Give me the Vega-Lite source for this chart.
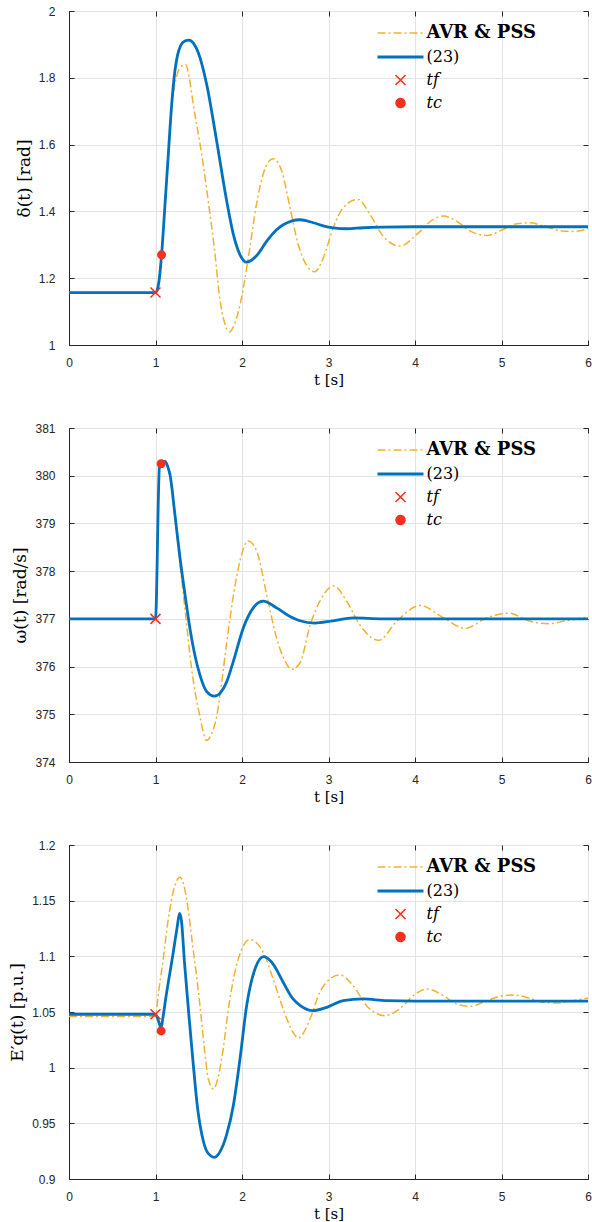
{
  "$schema": "https://vega.github.io/schema/vega-lite/v6.json",
  "autosize": {"type": "pad"},
  "padding": {"left": 8, "top": 4, "right": 0, "bottom": 4},
  "bounds": "flush",
  "spacing": 83,
  "background": "white",
  "datasets": {
    "L1": [
      {"s":"a","t":0,"v":1.157},{"s":"a","t":1.0,"v":1.157},{"s":"a","t":1.04,"v":1.19},{"s":"a","t":1.07,"v":1.269},{"s":"a","t":1.11,"v":1.421},{"s":"a","t":1.15,"v":1.571},{"s":"a","t":1.19,"v":1.715},{"s":"a","t":1.245,"v":1.805},{"s":"a","t":1.30,"v":1.834},{"s":"a","t":1.349,"v":1.840},{"s":"a","t":1.39,"v":1.80},{"s":"a","t":1.437,"v":1.72},{"s":"a","t":1.534,"v":1.571},{"s":"a","t":1.61,"v":1.431},{"s":"a","t":1.688,"v":1.272},{"s":"a","t":1.738,"v":1.15},{"s":"a","t":1.80,"v":1.065},{"s":"a","t":1.853,"v":1.039},{"s":"a","t":1.91,"v":1.06},{"s":"a","t":1.977,"v":1.12},{"s":"a","t":2.073,"v":1.262},{"s":"a","t":2.17,"v":1.425},{"s":"a","t":2.266,"v":1.528},{"s":"a","t":2.36,"v":1.558},{"s":"a","t":2.459,"v":1.521},{"s":"a","t":2.555,"v":1.411},{"s":"a","t":2.651,"v":1.30},{"s":"a","t":2.748,"v":1.238},{"s":"a","t":2.84,"v":1.219},{"s":"a","t":2.94,"v":1.261},{"s":"a","t":3.055,"v":1.351},{"s":"a","t":3.17,"v":1.411},{"s":"a","t":3.34,"v":1.436},{"s":"a","t":3.48,"v":1.391},{"s":"a","t":3.634,"v":1.325},{"s":"a","t":3.83,"v":1.296},{"s":"a","t":4.02,"v":1.331},{"s":"a","t":4.21,"v":1.376},{"s":"a","t":4.33,"v":1.386},{"s":"a","t":4.48,"v":1.371},{"s":"a","t":4.64,"v":1.341},{"s":"a","t":4.83,"v":1.328},{"s":"a","t":5.02,"v":1.346},{"s":"a","t":5.18,"v":1.363},{"s":"a","t":5.33,"v":1.366},{"s":"a","t":5.52,"v":1.353},{"s":"a","t":5.71,"v":1.341},{"s":"a","t":5.83,"v":1.340},{"s":"a","t":6.0,"v":1.348},
      {"s":"b","t":0,"v":1.157},{"s":"b","t":1.0,"v":1.157},{"s":"b","t":1.02,"v":1.165},{"s":"b","t":1.04,"v":1.19},{"s":"b","t":1.07,"v":1.269},{"s":"b","t":1.11,"v":1.421},{"s":"b","t":1.148,"v":1.571},{"s":"b","t":1.187,"v":1.72},{"s":"b","t":1.225,"v":1.822},{"s":"b","t":1.255,"v":1.868},{"s":"b","t":1.29,"v":1.896},{"s":"b","t":1.34,"v":1.910},{"s":"b","t":1.39,"v":1.913},{"s":"b","t":1.44,"v":1.903},{"s":"b","t":1.495,"v":1.875},{"s":"b","t":1.592,"v":1.78},{"s":"b","t":1.707,"v":1.611},{"s":"b","t":1.823,"v":1.431},{"s":"b","t":1.90,"v":1.331},{"s":"b","t":1.977,"v":1.27},{"s":"b","t":2.054,"v":1.248},{"s":"b","t":2.17,"v":1.268},{"s":"b","t":2.286,"v":1.311},{"s":"b","t":2.40,"v":1.345},{"s":"b","t":2.477,"v":1.360},{"s":"b","t":2.57,"v":1.371},{"s":"b","t":2.67,"v":1.375},{"s":"b","t":2.824,"v":1.366},{"s":"b","t":2.95,"v":1.356},{"s":"b","t":3.055,"v":1.351},{"s":"b","t":3.21,"v":1.348},{"s":"b","t":3.40,"v":1.351},{"s":"b","t":3.63,"v":1.353},{"s":"b","t":4.0,"v":1.354},{"s":"b","t":5.0,"v":1.354},{"s":"b","t":6.0,"v":1.354}
    ],
    "M1": [{"s":"f","t":1.0,"v":1.157},{"s":"c","t":1.07,"v":1.27}],
    "L2": [
      {"s":"a","t":0,"v":377},{"s":"a","t":1.0,"v":377},{"s":"a","t":1.046,"v":380.2},{"s":"a","t":1.07,"v":380.27},{"s":"a","t":1.11,"v":380.30},{"s":"a","t":1.14,"v":380.18},{"s":"a","t":1.168,"v":379.98},{"s":"a","t":1.225,"v":379.1},{"s":"a","t":1.283,"v":378.15},{"s":"a","t":1.341,"v":377.2},{"s":"a","t":1.418,"v":375.95},{"s":"a","t":1.514,"v":374.95},{"s":"a","t":1.59,"v":374.45},{"s":"a","t":1.65,"v":374.6},{"s":"a","t":1.707,"v":374.95},{"s":"a","t":1.76,"v":375.6},{"s":"a","t":1.823,"v":376.5},{"s":"a","t":1.90,"v":377.48},{"s":"a","t":1.977,"v":378.22},{"s":"a","t":2.07,"v":378.63},{"s":"a","t":2.17,"v":378.42},{"s":"a","t":2.286,"v":377.5},{"s":"a","t":2.40,"v":376.6},{"s":"a","t":2.50,"v":376.11},{"s":"a","t":2.57,"v":375.94},{"s":"a","t":2.67,"v":376.08},{"s":"a","t":2.79,"v":376.88},{"s":"a","t":2.90,"v":377.37},{"s":"a","t":3.06,"v":377.69},{"s":"a","t":3.21,"v":377.37},{"s":"a","t":3.36,"v":376.88},{"s":"a","t":3.58,"v":376.55},{"s":"a","t":3.79,"v":376.95},{"s":"a","t":4.06,"v":377.28},{"s":"a","t":4.33,"v":377.02},{"s":"a","t":4.58,"v":376.8},{"s":"a","t":4.83,"v":377.02},{"s":"a","t":5.08,"v":377.12},{"s":"a","t":5.33,"v":376.95},{"s":"a","t":5.54,"v":376.9},{"s":"a","t":5.75,"v":376.96},{"s":"a","t":6.0,"v":377.04},
      {"s":"b","t":0,"v":377},{"s":"b","t":1.0,"v":377},{"s":"b","t":1.046,"v":380.2},{"s":"b","t":1.07,"v":380.27},{"s":"b","t":1.11,"v":380.30},{"s":"b","t":1.14,"v":380.2},{"s":"b","t":1.168,"v":380.02},{"s":"b","t":1.225,"v":379.18},{"s":"b","t":1.283,"v":378.28},{"s":"b","t":1.341,"v":377.51},{"s":"b","t":1.40,"v":376.78},{"s":"b","t":1.46,"v":376.2},{"s":"b","t":1.509,"v":375.85},{"s":"b","t":1.59,"v":375.48},{"s":"b","t":1.682,"v":375.38},{"s":"b","t":1.75,"v":375.45},{"s":"b","t":1.823,"v":375.68},{"s":"b","t":1.90,"v":376.11},{"s":"b","t":2.015,"v":376.81},{"s":"b","t":2.13,"v":377.23},{"s":"b","t":2.245,"v":377.37},{"s":"b","t":2.40,"v":377.23},{"s":"b","t":2.555,"v":377.05},{"s":"b","t":2.67,"v":376.96},{"s":"b","t":2.84,"v":376.91},{"s":"b","t":3.05,"v":376.96},{"s":"b","t":3.29,"v":377.02},{"s":"b","t":3.63,"v":377.0},{"s":"b","t":6.0,"v":377.0}
    ],
    "M2": [{"s":"f","t":1.0,"v":377.0},{"s":"c","t":1.065,"v":380.25}],
    "L3": [
      {"s":"a","t":0,"v":1.046},{"s":"a","t":1.0,"v":1.046},{"s":"a","t":1.03,"v":1.0647},{"s":"a","t":1.084,"v":1.0946},{"s":"a","t":1.16,"v":1.1397},{"s":"a","t":1.237,"v":1.1665},{"s":"a","t":1.283,"v":1.171},{"s":"a","t":1.32,"v":1.166},{"s":"a","t":1.353,"v":1.1545},{"s":"a","t":1.43,"v":1.1097},{"s":"a","t":1.51,"v":1.0587},{"s":"a","t":1.566,"v":1.0168},{"s":"a","t":1.61,"v":0.99},{"s":"a","t":1.67,"v":0.9808},{"s":"a","t":1.72,"v":0.99},{"s":"a","t":1.765,"v":1.0078},{"s":"a","t":1.86,"v":1.0617},{"s":"a","t":1.957,"v":1.0976},{"s":"a","t":2.09,"v":1.115},{"s":"a","t":2.246,"v":1.1036},{"s":"a","t":2.36,"v":1.0797},{"s":"a","t":2.476,"v":1.0527},{"s":"a","t":2.59,"v":1.0318},{"s":"a","t":2.65,"v":1.0265},{"s":"a","t":2.70,"v":1.030},{"s":"a","t":2.786,"v":1.0437},{"s":"a","t":2.90,"v":1.0677},{"s":"a","t":3.017,"v":1.0797},{"s":"a","t":3.13,"v":1.0832},{"s":"a","t":3.285,"v":1.0737},{"s":"a","t":3.44,"v":1.0557},{"s":"a","t":3.65,"v":1.0467},{"s":"a","t":3.82,"v":1.0527},{"s":"a","t":3.98,"v":1.0647},{"s":"a","t":4.14,"v":1.0707},{"s":"a","t":4.326,"v":1.0647},{"s":"a","t":4.48,"v":1.0572},{"s":"a","t":4.64,"v":1.0551},{"s":"a","t":4.83,"v":1.0602},{"s":"a","t":4.985,"v":1.0641},{"s":"a","t":5.14,"v":1.0653},{"s":"a","t":5.33,"v":1.0623},{"s":"a","t":5.48,"v":1.0587},{"s":"a","t":5.64,"v":1.0581},{"s":"a","t":5.83,"v":1.0602},{"s":"a","t":6.0,"v":1.0626},
      {"s":"b","t":0,"v":1.048},{"s":"b","t":1.0,"v":1.048},{"s":"b","t":1.03,"v":1.043},{"s":"b","t":1.055,"v":1.037},{"s":"b","t":1.065,"v":1.036},{"s":"b","t":1.08,"v":1.042},{"s":"b","t":1.12,"v":1.063},{"s":"b","t":1.2,"v":1.101},{"s":"b","t":1.25,"v":1.126},{"s":"b","t":1.278,"v":1.1385},{"s":"b","t":1.30,"v":1.132},{"s":"b","t":1.335,"v":1.0946},{"s":"b","t":1.393,"v":1.0408},{"s":"b","t":1.431,"v":1.008},{"s":"b","t":1.48,"v":0.968},{"s":"b","t":1.55,"v":0.935},{"s":"b","t":1.60,"v":0.924},{"s":"b","t":1.682,"v":0.9195},{"s":"b","t":1.75,"v":0.925},{"s":"b","t":1.823,"v":0.94},{"s":"b","t":1.90,"v":0.966},{"s":"b","t":1.977,"v":1.008},{"s":"b","t":2.054,"v":1.0557},{"s":"b","t":2.15,"v":1.0886},{"s":"b","t":2.25,"v":1.0997},{"s":"b","t":2.36,"v":1.0931},{"s":"b","t":2.476,"v":1.0767},{"s":"b","t":2.59,"v":1.0617},{"s":"b","t":2.67,"v":1.056},{"s":"b","t":2.82,"v":1.0512},{"s":"b","t":2.98,"v":1.0542},{"s":"b","t":3.17,"v":1.0602},{"s":"b","t":3.40,"v":1.0617},{"s":"b","t":3.67,"v":1.0602},{"s":"b","t":4.0,"v":1.0598},{"s":"b","t":6.0,"v":1.0598}
    ],
    "M3": [{"s":"f","t":1.0,"v":1.048},{"s":"c","t":1.065,"v":1.033}]
  },
  "config": {
    "view": {"stroke": "#262626", "strokeWidth": 1},
    "axis": {
      "labelFont": "Liberation Sans", "labelFontSize": 12, "labelColor": "#262626",
      "titleFont": "DejaVu Serif", "titleFontSize": 15, "titleFontWeight": "normal", "titleColor": "#000000",
      "domainColor": "#262626", "tickColor": "#262626", "gridColor": "#E3E3E3", "gridWidth": 1,
      "tickSize": -5, "labelFlush": false, "labelOverlap": false
    },
    "axisX": {"labelPadding": 17, "titlePadding": 4},
    "axisY": {"labelPadding": 19, "titlePadding": 5, "titleFontSize": 17},
    "legend": {
      "labelFont": "DejaVu Serif", "labelFontSize": 16, "labelColor": "#000000",
      "labelOffset": 18, "rowPadding": 7, "symbolSize": 4, "padding": 0
    }
  },
  "resolve": {"scale": {"color": "independent"}, "legend": {"color": "independent"}},
  "vconcat": [
    {
      "width": 519, "height": 334,
      "resolve": {"scale": {"x": "independent", "y": "independent"}},
      "layer": [
        {
          "layer": [
            {"data": {"name": "L1"}, "transform": [{"filter": "datum.s === 'a'"}],
             "mark": {"type": "line", "strokeWidth": 1.5, "strokeDash": [8, 3, 2, 3], "interpolate": "monotone", "clip": true},
             "encoding": {
               "x": {"field": "t", "type": "quantitative", "scale": {"domain": [0, 6], "nice": false}, "axis": {"values": [0,1,2,3,4,5,6], "format": "d", "title": "t [s]"}},
               "y": {"field": "v", "type": "quantitative", "scale": {"domain": [1, 2], "nice": false, "zero": false}, "axis": {"values": [1,1.2,1.4,1.6,1.8,2], "format": ".1~f", "title": "δ(t) [rad]"}},
               "color": {"field": "s", "type": "nominal",
                 "scale": {"domain": ["a","b","f","c"], "range": ["#F2B230","#0072BD","#F5301E","#F5301E"]},
                 "legend": {"orient": "none", "legendX": 323.5, "legendY": 14, "title": null,
                   "labelFont": "DejaVu Serif", "labelFontSize": 16, "labelOffset": 18, "rowPadding": 7,
                   "labelExpr": "datum.value === 'a' ? 'AVR & PSS' : datum.value === 'b' ? '(23)' : datum.value === 'f' ? 'tf' : 'tc'",
                   "encode": {
                     "symbols": {"update": {
                       "shape": {"signal": "datum.value === 'a' || datum.value === 'b' ? 'M-23,0H23' : datum.value === 'f' ? 'M-5,-5L5,5M-5,5L5,-5' : 'circle'"},
                       "size": {"signal": "datum.value === 'c' ? 81 : 4"},
                       "stroke": {"signal": "datum.value === 'a' ? '#F2B230' : datum.value === 'b' ? '#0072BD' : datum.value === 'f' ? '#F5301E' : 'transparent'"},
                       "fill": {"signal": "datum.value === 'c' ? '#F5301E' : 'transparent'"},
                       "strokeWidth": {"signal": "datum.value === 'b' ? 2.8 : 1.5"},
                       "strokeDash": {"signal": "datum.value === 'a' ? [8,3,2,3] : [1,0]"},
                       "opacity": {"value": 1}
                     }},
                     "labels": {"update": {
                       "fontWeight": {"signal": "datum.value === 'a' ? 'bold' : 'normal'"},
                       "fontSize": {"signal": "datum.value === 'a' ? 18 : 16"},
                       "fontStyle": {"signal": "datum.value === 'f' || datum.value === 'c' ? 'italic' : 'normal'"}
                     }}
                   }
                 }}
             }},
            {"data": {"name": "L1"}, "transform": [{"filter": "datum.s === 'b'"}],
             "mark": {"type": "line", "strokeWidth": 2.8, "interpolate": "monotone", "clip": true},
             "encoding": {"x": {"field": "t", "type": "quantitative"}, "y": {"field": "v", "type": "quantitative"}, "color": {"field": "s", "type": "nominal"}}},
            {"data": {"name": "M1"}, "transform": [{"filter": "datum.s === 'f'"}],
             "mark": {"type": "point", "shape": "M-5,-5L5,5M-5,5L5,-5", "size": 4, "filled": false, "strokeWidth": 1.5, "opacity": 1},
             "encoding": {"x": {"field": "t", "type": "quantitative"}, "y": {"field": "v", "type": "quantitative"}, "color": {"field": "s", "type": "nominal"}}},
            {"data": {"name": "M1"}, "transform": [{"filter": "datum.s === 'c'"}],
             "mark": {"type": "point", "shape": "circle", "size": 81, "filled": true, "opacity": 1},
             "encoding": {"x": {"field": "t", "type": "quantitative"}, "y": {"field": "v", "type": "quantitative"}, "color": {"field": "s", "type": "nominal"}}}
          ]
        },
        {"data": {"name": "M1"}, "mark": {"type": "point", "opacity": 0},
         "encoding": {
           "x": {"field": "t", "type": "quantitative", "scale": {"domain": [0, 6], "nice": false}, "axis": {"orient": "top", "values": [0,1,2,3,4,5,6], "labels": false, "grid": false, "domain": false, "title": null}},
           "y": {"field": "v", "type": "quantitative", "scale": {"domain": [1, 2], "nice": false, "zero": false}, "axis": {"orient": "right", "values": [1,1.2,1.4,1.6,1.8,2], "labels": false, "grid": false, "domain": false, "title": null}}
         }}
      ]
    },
    {
      "width": 519, "height": 334,
      "resolve": {"scale": {"x": "independent", "y": "independent"}},
      "layer": [
        {
          "layer": [
            {"data": {"name": "L2"}, "transform": [{"filter": "datum.s === 'a'"}],
             "mark": {"type": "line", "strokeWidth": 1.5, "strokeDash": [8, 3, 2, 3], "interpolate": "monotone", "clip": true},
             "encoding": {
               "x": {"field": "t", "type": "quantitative", "scale": {"domain": [0, 6], "nice": false}, "axis": {"values": [0,1,2,3,4,5,6], "format": "d", "title": "t [s]"}},
               "y": {"field": "v", "type": "quantitative", "scale": {"domain": [374, 381], "nice": false, "zero": false}, "axis": {"values": [374,375,376,377,378,379,380,381], "format": "d", "title": "ω(t) [rad/s]"}},
               "color": {"field": "s", "type": "nominal",
                 "scale": {"domain": ["a","b","f","c"], "range": ["#F2B230","#0072BD","#F5301E","#F5301E"]},
                 "legend": {"orient": "none", "legendX": 323.5, "legendY": 14, "title": null,
                   "labelFont": "DejaVu Serif", "labelFontSize": 16, "labelOffset": 18, "rowPadding": 7,
                   "labelExpr": "datum.value === 'a' ? 'AVR & PSS' : datum.value === 'b' ? '(23)' : datum.value === 'f' ? 'tf' : 'tc'",
                   "encode": {
                     "symbols": {"update": {
                       "shape": {"signal": "datum.value === 'a' || datum.value === 'b' ? 'M-23,0H23' : datum.value === 'f' ? 'M-5,-5L5,5M-5,5L5,-5' : 'circle'"},
                       "size": {"signal": "datum.value === 'c' ? 81 : 4"},
                       "stroke": {"signal": "datum.value === 'a' ? '#F2B230' : datum.value === 'b' ? '#0072BD' : datum.value === 'f' ? '#F5301E' : 'transparent'"},
                       "fill": {"signal": "datum.value === 'c' ? '#F5301E' : 'transparent'"},
                       "strokeWidth": {"signal": "datum.value === 'b' ? 2.8 : 1.5"},
                       "strokeDash": {"signal": "datum.value === 'a' ? [8,3,2,3] : [1,0]"},
                       "opacity": {"value": 1}
                     }},
                     "labels": {"update": {
                       "fontWeight": {"signal": "datum.value === 'a' ? 'bold' : 'normal'"},
                       "fontSize": {"signal": "datum.value === 'a' ? 18 : 16"},
                       "fontStyle": {"signal": "datum.value === 'f' || datum.value === 'c' ? 'italic' : 'normal'"}
                     }}
                   }
                 }}
             }},
            {"data": {"name": "L2"}, "transform": [{"filter": "datum.s === 'b'"}],
             "mark": {"type": "line", "strokeWidth": 2.8, "interpolate": "monotone", "clip": true},
             "encoding": {"x": {"field": "t", "type": "quantitative"}, "y": {"field": "v", "type": "quantitative"}, "color": {"field": "s", "type": "nominal"}}},
            {"data": {"name": "M2"}, "transform": [{"filter": "datum.s === 'f'"}],
             "mark": {"type": "point", "shape": "M-5,-5L5,5M-5,5L5,-5", "size": 4, "filled": false, "strokeWidth": 1.5, "opacity": 1},
             "encoding": {"x": {"field": "t", "type": "quantitative"}, "y": {"field": "v", "type": "quantitative"}, "color": {"field": "s", "type": "nominal"}}},
            {"data": {"name": "M2"}, "transform": [{"filter": "datum.s === 'c'"}],
             "mark": {"type": "point", "shape": "circle", "size": 81, "filled": true, "opacity": 1},
             "encoding": {"x": {"field": "t", "type": "quantitative"}, "y": {"field": "v", "type": "quantitative"}, "color": {"field": "s", "type": "nominal"}}}
          ]
        },
        {"data": {"name": "M2"}, "mark": {"type": "point", "opacity": 0},
         "encoding": {
           "x": {"field": "t", "type": "quantitative", "scale": {"domain": [0, 6], "nice": false}, "axis": {"orient": "top", "values": [0,1,2,3,4,5,6], "labels": false, "grid": false, "domain": false, "title": null}},
           "y": {"field": "v", "type": "quantitative", "scale": {"domain": [374, 381], "nice": false, "zero": false}, "axis": {"orient": "right", "values": [374,375,376,377,378,379,380,381], "labels": false, "grid": false, "domain": false, "title": null}}
         }}
      ]
    },
    {
      "width": 519, "height": 334,
      "resolve": {"scale": {"x": "independent", "y": "independent"}},
      "layer": [
        {
          "layer": [
            {"data": {"name": "L3"}, "transform": [{"filter": "datum.s === 'a'"}],
             "mark": {"type": "line", "strokeWidth": 1.5, "strokeDash": [8, 3, 2, 3], "interpolate": "monotone", "clip": true},
             "encoding": {
               "x": {"field": "t", "type": "quantitative", "scale": {"domain": [0, 6], "nice": false}, "axis": {"values": [0,1,2,3,4,5,6], "format": "d", "title": "t [s]"}},
               "y": {"field": "v", "type": "quantitative", "scale": {"domain": [0.9, 1.2], "nice": false, "zero": false}, "axis": {"values": [0.9,0.95,1,1.05,1.1,1.15,1.2], "format": ".2~f", "title": "E′q(t) [p.u.]"}},
               "color": {"field": "s", "type": "nominal",
                 "scale": {"domain": ["a","b","f","c"], "range": ["#F2B230","#0072BD","#F5301E","#F5301E"]},
                 "legend": {"orient": "none", "legendX": 323.5, "legendY": 14, "title": null,
                   "labelFont": "DejaVu Serif", "labelFontSize": 16, "labelOffset": 18, "rowPadding": 7,
                   "labelExpr": "datum.value === 'a' ? 'AVR & PSS' : datum.value === 'b' ? '(23)' : datum.value === 'f' ? 'tf' : 'tc'",
                   "encode": {
                     "symbols": {"update": {
                       "shape": {"signal": "datum.value === 'a' || datum.value === 'b' ? 'M-23,0H23' : datum.value === 'f' ? 'M-5,-5L5,5M-5,5L5,-5' : 'circle'"},
                       "size": {"signal": "datum.value === 'c' ? 81 : 4"},
                       "stroke": {"signal": "datum.value === 'a' ? '#F2B230' : datum.value === 'b' ? '#0072BD' : datum.value === 'f' ? '#F5301E' : 'transparent'"},
                       "fill": {"signal": "datum.value === 'c' ? '#F5301E' : 'transparent'"},
                       "strokeWidth": {"signal": "datum.value === 'b' ? 2.8 : 1.5"},
                       "strokeDash": {"signal": "datum.value === 'a' ? [8,3,2,3] : [1,0]"},
                       "opacity": {"value": 1}
                     }},
                     "labels": {"update": {
                       "fontWeight": {"signal": "datum.value === 'a' ? 'bold' : 'normal'"},
                       "fontSize": {"signal": "datum.value === 'a' ? 18 : 16"},
                       "fontStyle": {"signal": "datum.value === 'f' || datum.value === 'c' ? 'italic' : 'normal'"}
                     }}
                   }
                 }}
             }},
            {"data": {"name": "L3"}, "transform": [{"filter": "datum.s === 'b'"}],
             "mark": {"type": "line", "strokeWidth": 2.8, "interpolate": "monotone", "clip": true},
             "encoding": {"x": {"field": "t", "type": "quantitative"}, "y": {"field": "v", "type": "quantitative"}, "color": {"field": "s", "type": "nominal"}}},
            {"data": {"name": "M3"}, "transform": [{"filter": "datum.s === 'f'"}],
             "mark": {"type": "point", "shape": "M-5,-5L5,5M-5,5L5,-5", "size": 4, "filled": false, "strokeWidth": 1.5, "opacity": 1},
             "encoding": {"x": {"field": "t", "type": "quantitative"}, "y": {"field": "v", "type": "quantitative"}, "color": {"field": "s", "type": "nominal"}}},
            {"data": {"name": "M3"}, "transform": [{"filter": "datum.s === 'c'"}],
             "mark": {"type": "point", "shape": "circle", "size": 81, "filled": true, "opacity": 1},
             "encoding": {"x": {"field": "t", "type": "quantitative"}, "y": {"field": "v", "type": "quantitative"}, "color": {"field": "s", "type": "nominal"}}}
          ]
        },
        {"data": {"name": "M3"}, "mark": {"type": "point", "opacity": 0},
         "encoding": {
           "x": {"field": "t", "type": "quantitative", "scale": {"domain": [0, 6], "nice": false}, "axis": {"orient": "top", "values": [0,1,2,3,4,5,6], "labels": false, "grid": false, "domain": false, "title": null}},
           "y": {"field": "v", "type": "quantitative", "scale": {"domain": [0.9, 1.2], "nice": false, "zero": false}, "axis": {"orient": "right", "values": [0.9,0.95,1,1.05,1.1,1.15,1.2], "labels": false, "grid": false, "domain": false, "title": null}}
         }}
      ]
    }
  ]
}
